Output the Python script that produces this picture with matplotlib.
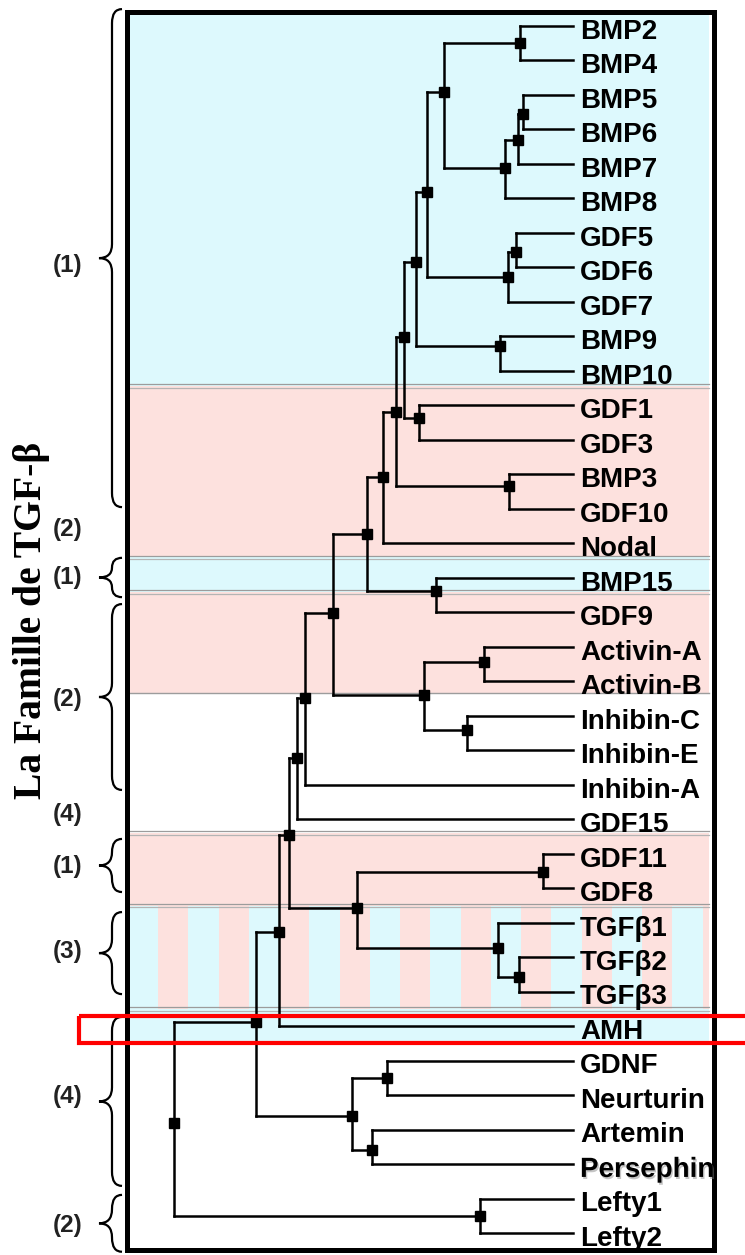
import matplotlib
matplotlib.use("Agg")
import matplotlib.pyplot as plt
import matplotlib.patheffects as pe
from matplotlib.patches import PathPatch, Rectangle
from matplotlib.path import Path

# leaves, top to bottom (row index = position)
leaves = ["BMP2", "BMP4", "BMP5", "BMP6", "BMP7", "BMP8", "GDF5", "GDF6",
          "GDF7", "BMP9", "BMP10", "GDF1", "GDF3", "BMP3", "GDF10", "Nodal",
          "BMP15", "GDF9", "Activin-A", "Activin-B", "Inhibin-C", "Inhibin-E",
          "Inhibin-A", "GDF15", "GDF11", "GDF8", "TGFβ1", "TGFβ2", "TGFβ3",
          "AMH", "GDNF", "Neurturin", "Artemin", "Persephin", "Lefty1", "Lefty2"]

# internal nodes: children, depth (root = 0, leaves = 1), row where parent joins
node_names = [f"n{i}" for i in range(1, 36)]
node_children = [
    ["BMP2", "BMP4"], ["BMP5", "BMP6"], ["n2", "BMP7"], ["n3", "BMP8"],
    ["n1", "n4"], ["GDF5", "GDF6"], ["n6", "GDF7"], ["n5", "n7"],
    ["BMP9", "BMP10"], ["n8", "n9"], ["GDF1", "GDF3"], ["n10", "n11"],
    ["BMP3", "GDF10"], ["n12", "n13"], ["n14", "Nodal"], ["BMP15", "GDF9"],
    ["n15", "n16"], ["Activin-A", "Activin-B"], ["Inhibin-C", "Inhibin-E"],
    ["n18", "n19"], ["n17", "n20"], ["n21", "Inhibin-A"], ["n22", "GDF15"],
    ["GDF11", "GDF8"], ["TGFβ2", "TGFβ3"], ["TGFβ1", "n25"], ["n24", "n26"],
    ["n23", "n27"], ["n28", "AMH"], ["GDNF", "Neurturin"],
    ["Artemin", "Persephin"], ["n30", "n31"], ["n29", "n32"],
    ["Lefty1", "Lefty2"], ["n33", "n34"]]
node_depth = [0.867, 0.875, 0.862, 0.830, 0.677, 0.857, 0.837, 0.634, 0.817,
              0.607, 0.614, 0.576, 0.840, 0.556, 0.524, 0.657, 0.484, 0.777,
              0.734, 0.627, 0.398, 0.328, 0.308, 0.925, 0.865, 0.812, 0.459,
              0.288, 0.263, 0.534, 0.496, 0.446, 0.206, 0.767, 0.000]
node_row = [0.49, 2.55, 3.31, 4.12, 1.91, 6.55, 7.28, 4.81, 9.28, 6.84, 11.37,
            9.02, 13.34, 11.19, 13.08, 16.38, 14.73, 18.44, 20.41, 19.40,
            17.02, 19.48, 21.22, 24.53, 27.57, 26.73, 25.57, 23.46, 26.27,
            30.50, 32.59, 31.60, 28.88, 34.50, 31.81]

# background bands (rows)
band_top = [None, 10.44, 15.40, 16.41, 19.34, 23.40, 25.51, 28.50]
band_bottom = [10.44, 15.40, 16.41, 19.34, 23.40, 25.51, 28.50, 29.49]
band_kind = ["cyan", "pink", "cyan", "pink", "white", "pink", "striped", "cyan"]
separators = [10.44, 15.40, 16.41, 19.34, 23.40, 25.51, 28.50]
separator_double = [True, True, True, False, True, True, True]

# left-hand group labels and braces (rows)
group_labels = ["(1)", "(2)", "(1)", "(2)", "(4)", "(1)", "(3)", "(4)", "(2)"]
group_label_row = [6.95, 14.61, 15.98, 19.54, 22.85, 24.36, 26.82, 31.05, 34.77]
brace_span = [(-0.49, 13.95), (15.42, 16.56), (16.76, 22.15), (23.57, 25.11),
              (25.69, 28.07), (28.73, 33.63), (33.89, 35.54)]

CYAN = "#ddf9fd"
PINK = "#fde1de"


def X(px):
    return (px - 174) / 399


def Y(px):
    return (px - 26) / 34.49


fig = plt.figure(figsize=(7.45, 12.55), dpi=100)
ax = fig.add_axes([0, 0, 1, 1])
ax.set_xlim(X(0), X(745))
ax.set_ylim(Y(1255), Y(0))
ax.axis("off")

# bands
x0, x1 = X(128), X(709)
for top, bot, kind in zip(band_top, band_bottom, band_kind):
    top = Y(14) if top is None else top
    if kind == "white":
        continue
    color = PINK if kind == "pink" else CYAN
    ax.add_patch(Rectangle((x0, top), x1 - x0, bot - top, color=color,
                           lw=0, zorder=0))
    if kind == "striped":
        sx = 158.0
        while sx < 709:
            ax.add_patch(Rectangle((X(sx), top), X(min(sx + 30.3, 709)) - X(sx),
                                   bot - top, color=PINK, lw=0, zorder=0.5))
            sx += 60.5

d = 1.6 / 34.49
for yb, dbl in zip(separators, separator_double):
    if dbl:
        ax.plot([x0, x1], [yb - d, yb - d], color="#9c9c9c", lw=0.9, zorder=1)
        ax.plot([x0, x1], [yb + d, yb + d], color="#b4b4b4", lw=0.9, zorder=1)
    else:
        ax.plot([x0, x1], [yb, yb], color="#9c9c9c", lw=1.0, zorder=1)

# tree
pos = {name: (1.0, i) for i, name in enumerate(leaves)}
for name, dep, row in zip(node_names, node_depth, node_row):
    pos[name] = (dep, row)

lw_tree = 1.8
for name, kids, dep, row in zip(node_names, node_children, node_depth, node_row):
    rows = [pos[k][1] for k in kids]
    ax.plot([dep, dep], [min(rows), max(rows)], color="black", lw=lw_tree,
            solid_capstyle="projecting", zorder=3)
    for k in kids:
        kd, kr = pos[k]
        ax.plot([dep, kd], [kr, kr], color="black", lw=lw_tree,
                solid_capstyle="projecting", zorder=3)
ax.plot(node_depth, node_row, "s", color="black", ms=7.5, zorder=4)

# leaf labels
for i, name in enumerate(leaves):
    kw = {}
    if name == "Persephin":
        kw["path_effects"] = [pe.withSimplePatchShadow(offset=(1, -1.5),
                                                       shadow_rgbFace="gray",
                                                       alpha=0.45)]
    ax.text(X(580), i + 0.37, name, ha="left", va="baseline", fontsize=20,
            fontweight="bold", family="Liberation Sans", zorder=6, **kw)

# frame
ax.add_patch(Rectangle((X(126.5), Y(12)), X(714) - X(126.5), Y(1250) - Y(12),
                       fill=False, ec="black", lw=3.6, zorder=5))

# braces
def brace(y0, y1, ym, x_end=122, x_spine=112, x_tip=99):
    r = min(14, (y1 - y0) / 4)
    pts = [(x_end, y0), (x_spine, y0), (x_spine, y0 + r),
           (x_spine, ym - r), (x_spine, ym), (x_tip, ym),
           (x_spine, ym), (x_spine, ym + r),
           (x_spine, y1 - r), (x_spine, y1), (x_end, y1)]
    codes = [Path.MOVETO, Path.CURVE3, Path.CURVE3, Path.LINETO, Path.CURVE3,
             Path.CURVE3, Path.CURVE3, Path.CURVE3, Path.LINETO, Path.CURVE3,
             Path.CURVE3]
    verts = [(X(px), Y(py)) for px, py in pts]
    ax.add_patch(PathPatch(Path(verts, codes), fill=False, ec="black",
                           lw=1.6, zorder=5))


for r0, r1 in brace_span:
    p0, p1 = 26 + 34.49 * r0, 26 + 34.49 * r1
    brace(p0, p1, (p0 + p1) / 2)

for lab, row in zip(group_labels, group_label_row):
    ax.text(X(68), row, lab, ha="center", va="center", fontsize=17.5,
            fontweight="bold", family="Liberation Sans", color="#222222")

ax.text(X(32), Y(620), "La Famille de TGF-β", rotation=90, ha="center",
        va="center", fontsize=28.5, fontweight="bold", family="Liberation Serif")

# red highlight around AMH
ax.add_patch(Rectangle((X(79), Y(1016)), X(760) - X(79), Y(1043) - Y(1016),
                       fill=False, ec="#ff0000", lw=3.0, zorder=7,
                       clip_on=False))

fig.savefig("out.png", dpi=100)
